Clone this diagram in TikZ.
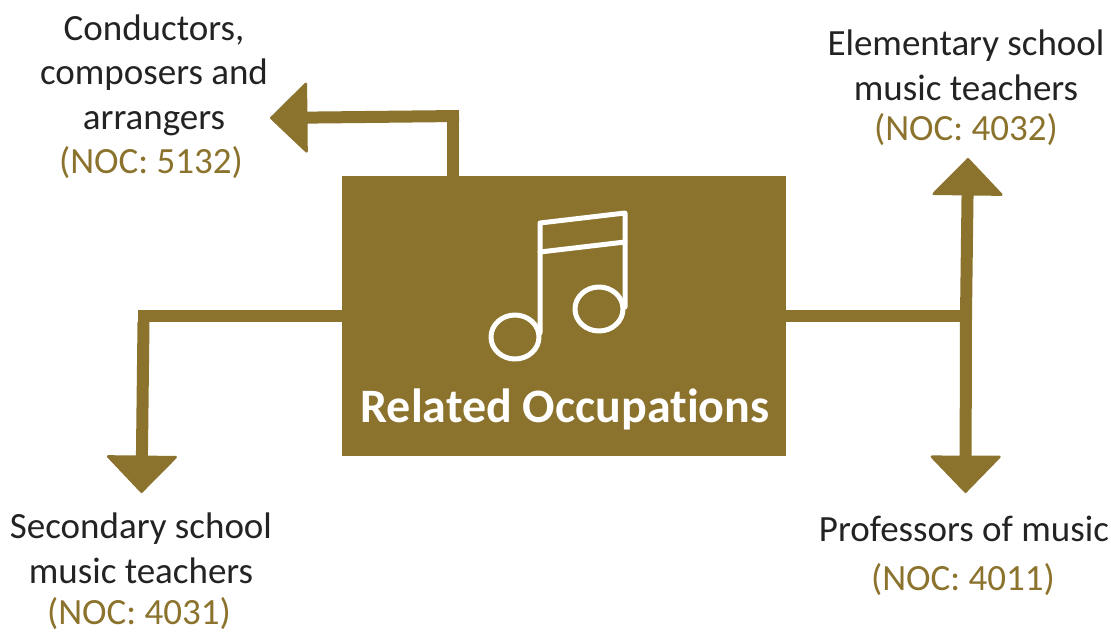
\documentclass[tikz,border=0pt]{standalone}
\usepackage{fontspec}
\setmainfont[Ligatures=NoCommon]{Carlito}
\usetikzlibrary{arrows.meta}
\definecolor{noteGold}{RGB}{139,115,45}
\definecolor{labelInk}{RGB}{35,35,35}
\tikzset{
    linkline/.style={draw=noteGold,line width=12pt,line join=miter},
    linkarrow/.style={linkline,-{Triangle[width=73pt,length=38pt,round,line width=2.5pt]}},
    jobname/.style={anchor=base,align=center,text=labelInk,inner sep=0pt,
        font=\fontsize{37}{44.5}\selectfont},
    nocode/.style={anchor=base,text=noteGold,inner sep=0pt,
        font=\fontsize{37}{44.5}\selectfont},
    iconline/.style={draw=white,line width=5pt,line join=round,line cap=round}
}
\begin{document}
\begin{tikzpicture}[x=1pt,y=-1pt]
\useasboundingbox (0,0) rectangle (1111,633);

% The centre box holds the icon and its title
\node (box) [fill=noteGold,minimum width=444pt,minimum height=280pt,inner sep=0pt,
    anchor=north west] at (342,176) {};
\node (title) [anchor=base,text=white,inner sep=0pt,
    font=\fontsize{48}{50}\selectfont\bfseries] at (565,422) {Related Occupations};

% The note
\draw[iconline] (540,333) -- (540,223) -- (625,213) -- (625,307);
\draw[iconline] (540,252) -- (625,242);
\draw[iconline] (515,337) ellipse [x radius=24,y radius=22];
\draw[iconline] (599,309) ellipse [x radius=24,y radius=22];

% The labels
\node (conductors) [jobname] at (154,129) {Conductors,\\composers and\\arrangers};
\node (conductorsnoc) [nocode] at (151,173) {(NOC: 5132)};
\node (elementary) [jobname] at (966,100) {Elementary school\\music teachers};
\node (elementarynoc) [nocode] at (966,140) {(NOC: 4032)};
\node (secondary) [jobname] at (141,583) {Secondary school\\music teachers};
\node (secondarynoc) [nocode] at (139,624) {(NOC: 4031)};
\node (professors) [jobname] at (964,541) {Professors of music};
\node (professorsnoc) [nocode] at (963,590) {(NOC: 4011)};

% Free ends and bends of the connectors
\coordinate (topout) at (453,176);
\coordinate (topbend) at (453,116);
\coordinate (toptip) at (270,118);
\coordinate (leftout) at (342,316);
\coordinate (leftbend) at (143.5,316);
\coordinate (lefttip) at (141.5,493);
\coordinate (rightout) at (786,316);
\coordinate (rightjoin) at (966,316);
\coordinate (uptip) at (968,158);
\coordinate (downtip) at (965.5,493);

\draw[linkline] (topout) -- (topbend);
\draw[linkarrow] ([xshift=6pt]topbend) -- (toptip);
\draw[linkline] (leftout) -- ([xshift=-6pt]leftbend);
\draw[linkarrow] ([yshift=-6pt]leftbend) -- (lefttip);
\draw[linkline] (rightout) -- (rightjoin);
\draw[linkarrow] (rightjoin) -- (uptip);
\draw[linkarrow] (rightjoin) -- (downtip);
\end{tikzpicture}
\end{document}
